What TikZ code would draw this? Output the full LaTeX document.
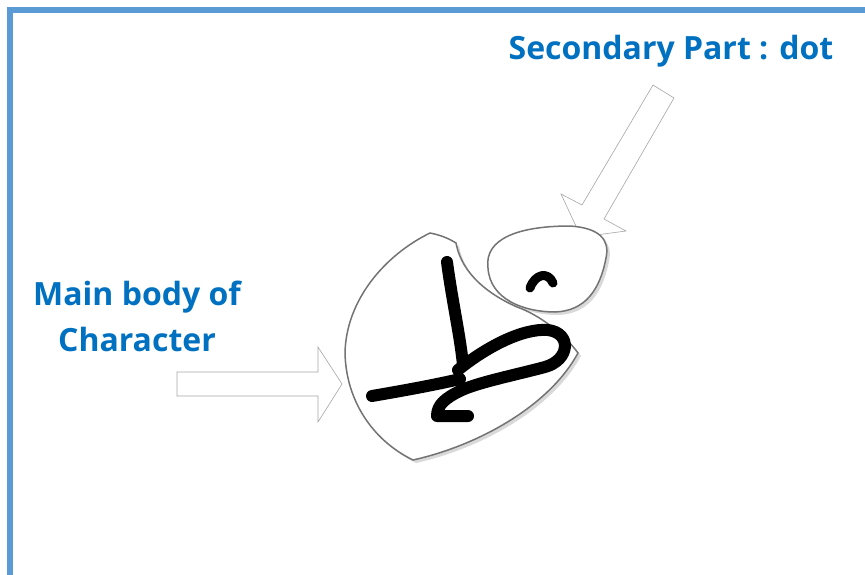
\documentclass[tikz,border=0pt]{standalone}
\usepackage{fontspec}
\setmainfont{Open Sans}
\usepackage{tikz}
\usetikzlibrary{
  positioning,
  shadows
}
\definecolor{frameblue}{RGB}{91, 155, 213}
\definecolor{textblue}{RGB}{0, 112, 192}
\definecolor{edgegrey}{RGB}{115, 115, 115}
\tikzset{
  titletext/.style={
    text=textblue,
    font=\fontsize{32}{46}\selectfont\bfseries,
    inner sep=0pt,
    align=center
  },
  region/.style={
    draw=edgegrey, line width=1.5pt, fill=white,
    drop shadow={shadow xshift=3pt, shadow yshift=-3pt, opacity=0.3}
  },
  hollowarrow/.style={draw=black!35, line width=0.6pt, fill=white, line join=miter},
  ink/.style={black, line width=12pt, line cap=round, line join=round}
}

\begin{document}
\begin{tikzpicture}[x=1pt, y=-1pt]

\useasboundingbox (0,0) rectangle (865,575);
\clip (0,0) rectangle (865,575);

% frame
\draw[frameblue, line width=6pt] (10,10) rectangle (900,620);

% labels
\node[titletext, anchor=base] (dotlabel) at (671,60) {Secondary Part : dot};
\node[titletext, anchor=north] (bodylabel) at (137,281) {Main body of\\Character};

% block arrows
\draw[hollowarrow] (177,372) -- (318,372) -- (318,347) -- (342,384)
  -- (318,422) -- (318,396) -- (177,396) -- cycle;
\draw[hollowarrow] (653,85) -- (674,98) -- (604,219) -- (626,231)
  -- (581,237) -- (561,194) -- (582,205) -- cycle;

% main body region
\path[region] (430,233) .. controls (385,255) and (346,300) .. (345,353)
  .. controls (346,400) and (372,440) .. (413,460)
  .. controls (480,445) and (550,405) .. (578,353)
  .. controls (565,335) and (540,315) .. (517,307)
  .. controls (490,295) and (462,275) .. (456,243)
  .. controls (448,238) and (440,235) .. (430,233) -- cycle;

% dot region
\path[region] (488,268) .. controls (484,238) and (520,226) .. (570,226)
  .. controls (600,228) and (610,240) .. (606,258)
  .. controls (600,290) and (585,311) .. (555,312)
  .. controls (525,312) and (490,300) .. (488,268) -- cycle;

% handwritten character
\draw[ink] (447,262) .. controls (452,300) and (460,335) .. (463,365);
\draw[ink] (458,370) .. controls (485,348) and (522,328) .. (548,330)
  .. controls (572,333) and (570,360) .. (545,367)
  .. controls (515,375) and (480,382) .. (462,390)
  .. controls (445,398) and (437,405) .. (437,416) -- (468,416);
\draw[ink] (372,396) .. controls (395,392) and (430,386) .. (460,379);
\draw[ink, line width=9pt] (530,288) .. controls (535,274) and (548,271) .. (553,283);

\end{tikzpicture}
\end{document}
